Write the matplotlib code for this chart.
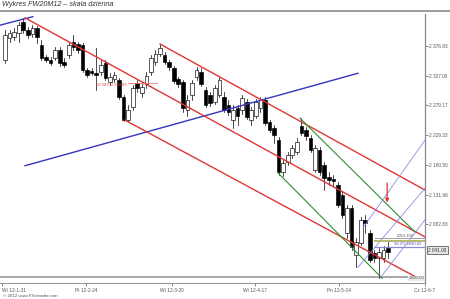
import matplotlib
matplotlib.use("Agg")
import matplotlib.pyplot as plt
from matplotlib.patches import Rectangle
from matplotlib.lines import Line2D

# ---------------- data (daily candles, FW20M12) ----------------
opens = [2354,2390,2392,2398,2416,2403,2397,2406,2379,2359,
         2354,2357,2370,2351,2362,2383,2380,2379,2337,2336,
         2332,2334,2349,2318,2323,2321,2293,2255,2277,2316,
         2300,2314,2334,2351,2364,2362,2351,2341,2323,2318,
         2272,2296,2326,2334,2305,2296,2285,2296,2293,2280,
         2255,2275,2272,2285,2255,2262,2275,2288,2252,2242,
         2222,2170,2186,2198,2203,2245,2239,2226,2173,2206,
         2181,2162,2158,2148,2132,2069,2110,2033,2053,2091,
         2069,2036,2028,2028,2045]
highs = [2403,2403,2406,2416,2423,2408,2411,2410,2387,2362,
         2359,2375,2375,2357,2382,2395,2383,2382,2341,2341,
         2374,2354,2354,2332,2334,2324,2296,2280,2313,2321,
         2316,2334,2362,2370,2380,2367,2354,2344,2326,2321,
         2296,2321,2342,2341,2309,2301,2313,2326,2301,2288,
         2280,2280,2296,2290,2277,2290,2293,2293,2255,2247,
         2227,2189,2203,2214,2226,2258,2244,2230,2214,2211,
         2186,2170,2165,2153,2137,2115,2115,2061,2096,2099,
         2074,2041,2045,2048,2055]
lows = [2349,2383,2387,2383,2398,2390,2392,2382,2354,2351,
        2346,2354,2344,2342,2357,2370,2365,2334,2326,2329,
        2305,2329,2321,2313,2318,2290,2254,2252,2272,2301,
        2293,2308,2329,2346,2360,2347,2337,2316,2309,2268,
        2262,2288,2321,2311,2277,2278,2282,2293,2268,2263,
        2242,2247,2265,2257,2247,2258,2268,2247,2235,2217,
        2165,2163,2181,2193,2199,2230,2222,2203,2170,2165,
        2140,2148,2147,2112,2094,2061,2041,2014,2050,2069,
        2022,2022,1995,2022,2028]
closes = [2395,2398,2400,2411,2403,2395,2406,2392,2357,2354,
          2349,2370,2349,2346,2379,2375,2370,2337,2329,2332,
          2329,2346,2324,2326,2329,2293,2255,2272,2308,2308,
          2309,2328,2357,2364,2374,2351,2342,2319,2314,2275,
          2288,2316,2337,2314,2280,2283,2308,2321,2272,2268,
          2272,2262,2291,2260,2272,2285,2288,2250,2239,2230,
          2170,2185,2197,2209,2219,2234,2229,2206,2209,2170,
          2160,2157,2155,2115,2099,2110,2046,2055,2091,2086,
          2025,2028,2038,2041,2038]

y_tick_values = [2376.83, 2328.00, 2279.17, 2230.33, 2181.50, 2132.66, 2083.83]
y_tick_labels = ["2 376.83", "2 327.00", "2 279.17", "2 229.33", "2 180.50", "2 131.66", "2 082.83"]
x_tick_pos = [-0.66, 17.76, 36.6, 54.8, 73.2, 92.1]
x_tick_labels = ["Wt 12-1-31", "Pt 12-2-24", "Wt 12-3-20", "Wt 12-4-17", "Pn 12-5-14", "Cz 12-6-7"]

# trend lines: (x indices), (prices)
blue_top = ([-1.1, 6.1], [2411, 2425])
blue_main = ([4.4, 77.4], [2180, 2332])
red_lines = [([4.4, 92.1], [2423, 2063]),
             ([34.0, 92.1], [2380, 2140]),
             ([26.3, 90.6], [2255, 1995])]
green_lines = [([64.7, 89.9], [2258, 2071]),
               ([59.9, 82.7], [2168, 1995])]
purple_lines = [([78.5, 92.1], [2078, 2222]),
                ([77.4, 92.1], [2013, 2143]),
                ([82.2, 92.1], [1995, 2091])]
fib_level_price = 2313
fib_text = "50.00% 2 230.83"
level_gray = 2061
level_olive = 2057
level_purple = 2047
last_price = 2041.4
low_level = 1997
arrow_x = 83.8
arrow_from, arrow_to = 2156, 2115

# ---------------- figure ----------------
W, H = 450, 299
fig = plt.figure(figsize=(W / 100, H / 100), dpi=100)
plt.rcParams['font.family'] = ['Liberation Sans', 'DejaVu Sans']

ax_left, ax_right, ax_top, ax_bot = 0, 425, 14, 283
ax = fig.add_axes([ax_left / W, 1 - ax_bot / H, (ax_right - ax_left) / W, (ax_bot - ax_top) / H])
ax.set_xlim(-1.1, 92.1)
ax.set_ylim(1987.2, 2429.4)

for s in ['top', 'left']:
    ax.spines[s].set_visible(False)
ax.spines['right'].set_color('#8a8a8a')
ax.spines['right'].set_linewidth(0.9)
ax.spines['bottom'].set_color('#9a9a9a')
ax.spines['bottom'].set_linewidth(0.8)

ax.yaxis.tick_right()
ax.set_yticks(y_tick_values)
ax.set_yticklabels(y_tick_labels)
ax.tick_params(axis='y', length=2, width=0.5, colors='#555555', labelsize=3.4, pad=1)
ax.set_xticks(x_tick_pos)
ax.set_xticklabels(x_tick_labels)
ax.tick_params(axis='x', length=2, width=0.5, colors='#555555', labelsize=3.4, pad=1.5)
for lab in ax.get_xticklabels()[:1]:
    lab.set_horizontalalignment('left')

# candles
bw = 0.8
for i, (o, h, l, c) in enumerate(zip(opens, highs, lows, closes)):
    ax.plot([i, i], [l, h], color='black', lw=0.5, zorder=2)
    bull = c >= o
    ax.add_patch(Rectangle((i - bw / 2, min(o, c)), bw, max(abs(c - o), 0.8),
                           facecolor='white' if bull else 'black',
                           edgecolor='black', lw=0.45, zorder=2.5))

# lines
ax.plot(*blue_top, color='#3535c0', lw=1.0, zorder=3)
ax.plot(*blue_main, color='#3535c0', lw=1.0, zorder=3)
for xs, ys in red_lines:
    ax.plot(xs, ys, color='#e03535', lw=1.0, zorder=3)
for xs, ys in green_lines:
    ax.plot(xs, ys, color='#2f8f2f', lw=0.8, zorder=3)
for xs, ys in purple_lines:
    ax.plot(xs, ys, color='#8a8ae8', lw=0.6, zorder=3)

ax.axhline(low_level, color='#a0a0a0', lw=1.3, zorder=1)

# fib label on left
ax.text(20.0, fib_level_price, fib_text, color='#e04040', fontsize=3.0, va='center', ha='left', zorder=4)
ax.plot([27.0, 33.3], [fib_level_price + 3, fib_level_price + 3], color='#f07070', lw=0.6, zorder=3)

# right side levels
ax.plot([81.1, 92.1], [level_gray, level_gray], color='#a0a0a0', lw=0.7, zorder=3)
ax.plot([81.1, 92.1], [level_olive, level_olive], color='#b8b870', lw=1.4, zorder=3)
ax.plot([81.1, 92.1], [level_purple, level_purple], color='#8a8ad0', lw=0.9, zorder=3)
ax.text(86.0, level_gray + 4, "2053.102", color='#555555', fontsize=3.0, va='center', ha='left', zorder=4)
ax.text(85.3, level_purple + 4, "38.2% 2040.82", color='#5050b0', fontsize=3.0, va='center', ha='left', zorder=4)

# red arrow
ax.annotate('', xy=(arrow_x, arrow_to), xytext=(arrow_x, arrow_from),
            arrowprops=dict(arrowstyle='-|>', color='#e03030', lw=0.9, mutation_scale=5), zorder=4)

# last price box
ax.text(1.008, last_price, "2 041.00", transform=ax.get_yaxis_transform(), fontsize=3.4,
        va='center', ha='left', color='#333333',
        bbox=dict(boxstyle='square,pad=0.25', facecolor='#e6e6e6', edgecolor='#444444', lw=0.5), zorder=5)
ax.text(92.0, low_level - 2, "1990.00", fontsize=3.2, va='center', ha='right', color='#555555',
        bbox=dict(boxstyle='square,pad=0.15', facecolor='#e8e8e8', edgecolor='none'), zorder=5)

# title & separators
fig.text(2 / W, 1 - 5 / H, "Wykres FW20M12 – skala dzienna", fontsize=5.2, style='italic',
         va='center', ha='left', color='#333333')
fig.add_artist(Line2D([0, 1], [1 - 10.5 / H] * 2, color='#8a8a8a', lw=1.2))
fig.text(3 / W, 1 - 296 / H, "© 2012 www.FXcitrader.com", fontsize=3.2, va='center', ha='left', color='#555555')

fig.savefig("out.png", dpi=100)
